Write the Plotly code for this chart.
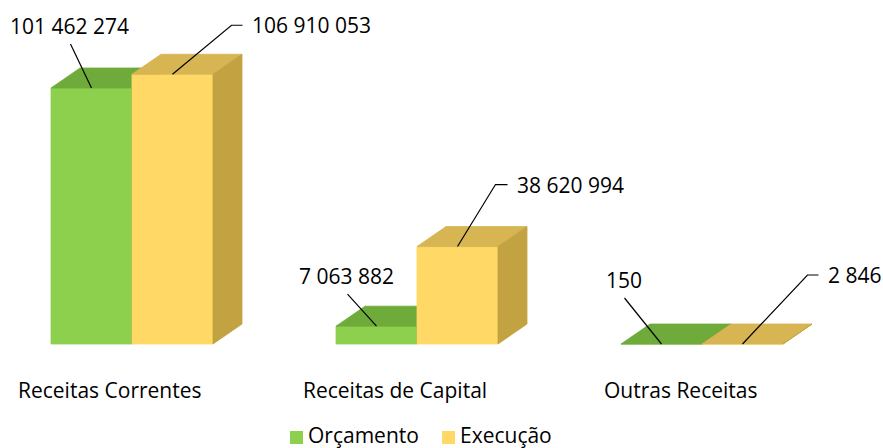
import plotly.graph_objects as go

# ---------------- data ----------------
categories = ["Receitas Correntes", "Receitas de Capital", "Outras Receitas"]
series_names = ["Orçamento", "Execução"]
orcamento = [101462274, 7063882, 150]
execucao = [106910053, 38620994, 2846]

# ---------------- layout constants ----------------
W, H = 883, 448
GROUP_PX = 285            # pixels between group centres
X0_PX = 132               # pixel x of first group centre
BASE_PX = 344             # pixel y of the baseline
VPP = orcamento[0] / 256  # value per pixel (vertical)
BAR_W = 81 / GROUP_PX
DEPTH_X = 29 / GROUP_PX
DEPTH_Y = 20 * VPP
FONT = "Open Sans"
FS = 21

colors = {
    "front": ["#8DD04E", "#FFD866"],
    "top": ["#6FAB3B", "#D7B552"],
    "side": ["#5F9B31", "#C2A241"],
}


def off(dx_px, dy_px):
    """pixel offset (right, down) -> data offset"""
    return dx_px / GROUP_PX, -dy_px * VPP


def fmt(v):
    return f"{v:,}".replace(",", " ")


fig = go.Figure()

series = [orcamento, execucao]
offsets = [-BAR_W, 0.0]

for s, vals in enumerate(series):
    for face in ["front", "top", "side"]:
        xs, ys = [], []
        for i, v in enumerate(vals):
            x0 = i + offsets[s]
            x1 = x0 + BAR_W
            if face == "front":
                px = [x0, x1, x1, x0, x0]
                py = [0, 0, v, v, 0]
            elif face == "top":
                px = [x0, x1, x1 + DEPTH_X, x0 + DEPTH_X, x0]
                py = [v, v, v + DEPTH_Y, v + DEPTH_Y, v]
            else:
                px = [x1, x1 + DEPTH_X, x1 + DEPTH_X, x1, x1]
                py = [0, DEPTH_Y, v + DEPTH_Y, v, 0]
            xs += px + [None]
            ys += py + [None]
        fig.add_trace(go.Scatter(
            x=xs, y=ys, mode="lines", fill="toself",
            name=series_names[s],
            fillcolor=colors[face][s],
            line=dict(color=colors[face][s], width=0.8),
            showlegend=False, hoverinfo="skip",
        ))

# ---------------- data labels with leader lines ----------------
# (series, group, leader offsets in px from bar top-centre, side)
label_geom = [
    (0, 0, [(-21, -44)], "left"),
    (1, 0, [(59, -49), (70, -49)], "right"),
    (0, 1, [(-29, -32)], "left"),
    (1, 1, [(38, -62), (50, -62)], "right"),
    (0, 2, [(-37, -46)], "left"),
    (1, 2, [(65, -69), (76, -69)], "right"),
]

annotations = []
for s, i, pts, side in label_geom:
    v = series[s][i]
    ax = i + offsets[s] + BAR_W / 2
    ay = v
    lx, ly = [ax], [ay]
    for p in pts:
        dx, dy = off(*p)
        lx.append(ax + dx)
        ly.append(ay + dy)
    fig.add_trace(go.Scatter(
        x=lx, y=ly, mode="lines", line=dict(color="black", width=1.2),
        showlegend=False, hoverinfo="skip",
    ))
    if side == "left":
        tdx, tdy = off(-1, -18)
        annotations.append(dict(
            x=lx[-1] + tdx, y=ly[-1] + tdy, text=fmt(v), showarrow=False,
            xanchor="center", yanchor="middle",
            font=dict(family=FONT, size=FS, color="black")))
    else:
        tdx, tdy = off(7, 0)
        annotations.append(dict(
            x=lx[-1] + tdx, y=ly[-1] + tdy, text=fmt(v), showarrow=False,
            xanchor="left", yanchor="middle",
            font=dict(family=FONT, size=FS, color="black")))

# category labels
for i, c in enumerate(categories):
    dx, dy = off(-22, 46)
    annotations.append(dict(
        x=i + dx, y=dy, text=c, showarrow=False,
        xanchor="center", yanchor="middle",
        font=dict(family=FONT, size=FS, color="black")))

# legend (drawn at the very bottom edge, where plotly's own legend is clamped)
LEG_TEXT_Y = 434.5
LEG_SQ_Y = 437.5
LEG_SQ = 13
leg_x = [290, 442]
shapes = []
for s, name in enumerate(series_names):
    x0 = leg_x[s]
    shapes.append(dict(
        type="rect", xref="paper", yref="paper",
        x0=x0 / W, x1=(x0 + LEG_SQ) / W,
        y0=1 - (LEG_SQ_Y + LEG_SQ / 2) / H, y1=1 - (LEG_SQ_Y - LEG_SQ / 2) / H,
        fillcolor=colors["front"][s], line=dict(width=0),
    ))
    annotations.append(dict(
        xref="paper", yref="paper",
        x=(x0 + LEG_SQ + 3) / W, y=1 - LEG_TEXT_Y / H,
        text=name, showarrow=False, xanchor="left", yanchor="middle",
        font=dict(family=FONT, size=FS, color="black")))

fig.update_layout(
    width=W, height=H,
    margin=dict(l=0, r=0, t=0, b=0),
    paper_bgcolor="white", plot_bgcolor="white",
    xaxis=dict(range=[-X0_PX / GROUP_PX, (W - X0_PX) / GROUP_PX],
               visible=False, fixedrange=True),
    yaxis=dict(range=[-(H - BASE_PX) * VPP, BASE_PX * VPP],
               visible=False, fixedrange=True),
    showlegend=False,
    annotations=annotations,
    shapes=shapes,
)

fig.write_html(
    "out.html",
    config={"displayModeBar": False, "staticPlot": True},
    post_script="document.documentElement.style.margin='0px';"
                "document.body.style.margin='0px';"
                "document.documentElement.style.overflow='hidden';"
                "document.body.style.overflow='hidden';",
)
